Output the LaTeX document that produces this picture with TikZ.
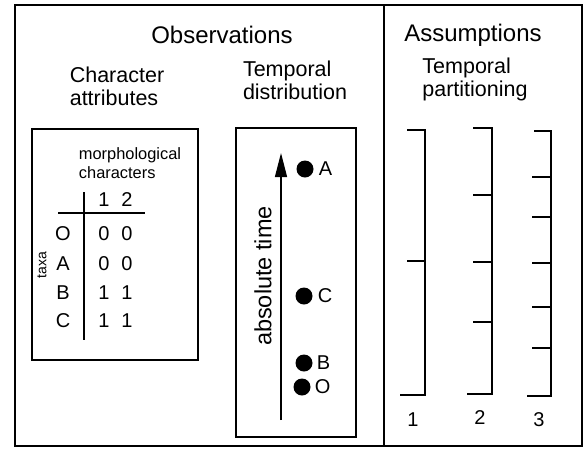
\documentclass[tikz,border=0pt]{standalone}
\usepackage{fontspec}
\setmainfont{Liberation Sans}
\usepackage{tikz}
\usetikzlibrary{arrows.meta,positioning}
\tikzset{
    frame/.style={line width=1.2pt},
    bracket/.style={line width=1.6pt},
    head/.style={inner sep=0pt, font=\fontsize{24}{26}\selectfont},
    sub/.style={inner sep=0pt, align=left, font=\fontsize{21.5}{23}\selectfont},
    small/.style={inner sep=0pt, align=left, font=\fontsize{16.4}{19}\selectfont},
    cell/.style={inner sep=0pt, font=\fontsize{20}{21}\selectfont},
    dot/.style={circle, fill=black, minimum size=17pt, inner sep=0pt},
    timearrow/.style={line width=1.3pt, -{Triangle[length=24pt,width=12pt]}}
}

\begin{document}
\begin{tikzpicture}[x=1pt,y=1pt,yscale=-1,xscale=1]
\useasboundingbox (0,0) rectangle (584,448);
%Outer frame
\draw[frame] (15,5) rectangle (582,446);
\draw[frame] (384,5) -- (384,446);
%Headings
\node[head] (obs) at (222,35) {Observations};
\node[head] (ass) at (473,35) {Assumptions};
\node[sub] (charattr) at (117,86) {Character\\attributes};
\node[sub] (tempdist) at (295,80) {Temporal\\distribution};
\node[sub] (temppart) at (475,79) {Temporal\\partitioning};
%Character matrix
\draw[frame] (32,129) rectangle (198,360);
\node[small] (morph) at (130,163) {morphological\\characters};
\coordinate (vtop) at (84,192);
\coordinate (vbot) at (84,340);
\coordinate (hleft) at (58,213);
\coordinate (hright) at (145,213);
\draw[line width=1.1pt] (vtop) -- (vbot);
\draw[line width=1.1pt] (hleft) -- (hright);
\node[cell] (ch1) at (104,200) {1};
\node[cell] (ch2) at (127,200) {2};
\node[cell, rotate=90, font=\fontsize{14}{15}\selectfont] (taxa) at (42,265) {taxa};
\foreach \t/\a/\b/\y in {O/0/0/234, A/0/0/264, B/1/1/293, C/1/1/321}{
  \node[cell] (row\t) at (63,\y) {\t};
  \node[cell] (row\t a) at (104,\y) {\a};
  \node[cell] (row\t b) at (127,\y) {\b};
}
%Temporal distribution
\draw[frame] (236,128) rectangle (356,437);
\coordinate (tbot) at (281,420);
\coordinate (ttop) at (281,153);
\draw[timearrow] (tbot) -- (ttop);
\node[cell, rotate=90, font=\fontsize{23.5}{25}\selectfont] (abstime) at (263,276) {absolute time};
\node[dot] (dotA) at (305,169) {};
\node[dot] (dotC) at (304,296) {};
\node[dot] (dotB) at (304,363) {};
\node[dot] (dotO) at (302,387) {};
\node[cell, right=5pt of dotA] (labA) {A};
\node[cell, right=5pt of dotC] (labC) {C};
\node[cell, right=4pt of dotB] (labB) {B};
\node[cell, right=4pt of dotO] (labO) {O};
%Partitioning brackets
\draw[bracket] (407,130) -- (425,130) -- (425,395) -- (400,395);
\draw[bracket] (407,261) -- (425,261);
\draw[bracket] (473,128) -- (492,128) -- (492,394) -- (467,394);
\foreach \y in {195,262,322}
  \draw[bracket] (473,\y) -- (492,\y);
\draw[bracket] (534,131) -- (551,131) -- (551,396) -- (527,396);
\foreach \y in {177,217,263,307,348}
  \draw[bracket] (532,\y) -- (551,\y);
\node[cell] (num1) at (413,420) {1};
\node[cell] (num2) at (480,418) {2};
\node[cell] (num3) at (539,420) {3};
\end{tikzpicture}
\end{document}
